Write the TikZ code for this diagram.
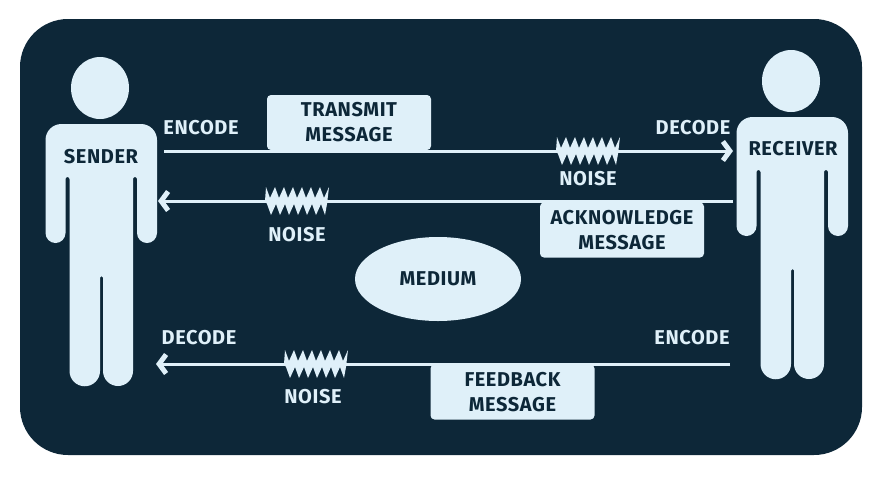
\documentclass[tikz,border=0pt]{standalone}
\usepackage{fontspec}
\setmainfont{Fira Sans}[LetterSpace=3]
\usetikzlibrary{arrows.meta,shapes.geometric}
\definecolor{panelblue}{HTML}{0D2738}
\definecolor{paleblue}{HTML}{DFF0F9}
\tikzset{
  lighttext/.style={text=paleblue,font=\fontsize{20}{25}\selectfont\bfseries,inner sep=0pt,align=center},
  darktext/.style={lighttext,text=panelblue},
  msgbox/.style={fill=paleblue,rounded corners=4pt,minimum width=164pt,minimum height=55pt,darktext},
  link/.style={draw=paleblue,line width=3pt,-{Straight Barb[length=7pt,width=19pt,line width=5pt]}},
  person/.pic={
    \fill[paleblue] (0,-36) ellipse (29 and 31);
    \fill[paleblue] (-54.5,109) -- (-54.5,40) [rounded corners=16pt] -- (-54.5,0) -- (57,0) -- (57,40) [sharp corners] -- (57,109)
      arc (0:180:10) -- (37,55) arc (360:180:2) -- (33,247) arc (0:180:15) -- (3,153.5) arc (360:180:1.5)
      -- (0,247) arc (0:180:15.25) -- (-30.5,55) arc (360:180:2) -- (-34.5,109) arc (0:180:10) -- cycle;
  },
  noise/.pic={
    \fill[paleblue] (-32,0)
      \foreach \i in {0,...,6} { -- ({-32+9*\i+1},-14) -- ({-32+9*\i+5},-3) }
      -- (32,-14) -- (30,3)
      \foreach \i in {0,...,6} { -- ({28-9*\i},14) -- ({24-9*\i},3) }
      -- cycle;
  }
}
\begin{document}
\begin{tikzpicture}[x=1pt,y=-1pt]
\useasboundingbox (0,0) rectangle (882,480);
\fill[panelblue,rounded corners=48pt] (20,19) rectangle (862,455);

\pic at (100,124) {person};
\pic at (791,117) {person};
\node[darktext] (sender) at (101,157) {SENDER};
\node[darktext] (receiver) at (793,149) {RECEIVER};

\coordinate (txstart) at (164,151);
\coordinate (txend) at (733,151);
\coordinate (ackstart) at (733,201);
\coordinate (ackend) at (158,201);
\coordinate (fbstart) at (730,364);
\coordinate (fbend) at (156,364);
\draw[link] (txstart) -- (txend);
\draw[link] (ackstart) -- (ackend);
\draw[link] (fbstart) -- (fbend);

\node[msgbox] (transmit) at (349,122.5) {TRANSMIT\\MESSAGE};
\node[msgbox] (acknowledge) at (622,230) {ACKNOWLEDGE\\MESSAGE};
\node[msgbox] (feedback) at (512.5,392) {FEEDBACK\\MESSAGE};
\node[fill=paleblue,ellipse,minimum width=166pt,minimum height=84pt,darktext] (medium) at (438,279) {MEDIUM};

\pic at (588,151) {noise};
\pic at (297,201) {noise};
\pic at (316,364) {noise};

\node[lighttext] (encodetx) at (201,128) {ENCODE};
\node[lighttext] (decodetx) at (693,128) {DECODE};
\node[lighttext] (noisetx) at (588,179) {NOISE};
\node[lighttext] (noiseack) at (297,235) {NOISE};
\node[lighttext] (decodefb) at (199,338) {DECODE};
\node[lighttext] (encodefb) at (692,338) {ENCODE};
\node[lighttext] (noisefb) at (313,397) {NOISE};
\end{tikzpicture}
\end{document}
